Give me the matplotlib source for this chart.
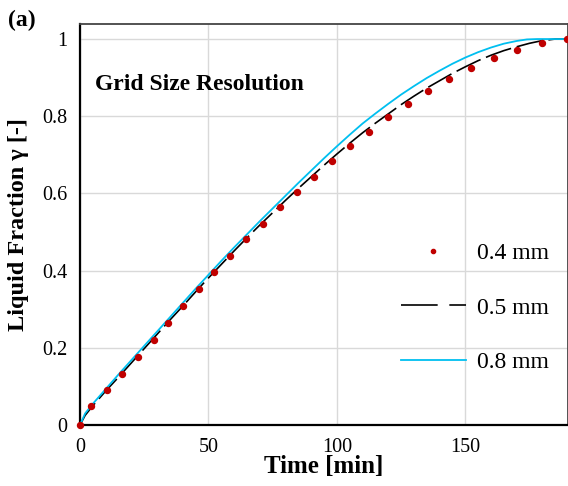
import matplotlib.pyplot as plt

plt.rcParams['font.family'] = ['Liberation Serif', 'DejaVu Serif']

# 0.4 mm grid (dots)
t_04 = [0, 4.1, 10.4, 16.3, 22.6, 28.8, 34.4, 40.1, 46.2, 52.1, 58.4, 64.6, 71.2, 77.8,
        84.4, 91.3, 98.3, 105.3, 112.5, 120, 127.6, 135.5, 143.7, 152.1, 161, 170.3, 179.8, 189.5]
y_04 = [0, 0.049, 0.091, 0.132, 0.177, 0.22, 0.265, 0.309, 0.352, 0.396, 0.439, 0.481, 0.522, 0.564,
        0.603, 0.643, 0.683, 0.722, 0.759, 0.797, 0.831, 0.865, 0.896, 0.925, 0.951, 0.972, 0.99, 1.0]

# 0.5 mm grid (dashed)
t_05 = [0, 2, 5, 10, 15, 20, 25, 30, 35, 40, 45, 50, 55, 60, 65, 70, 75, 80, 85, 90, 95, 100,
        105, 110, 115, 120, 125, 130, 135, 140, 145, 150, 155, 160, 165, 170, 175, 180, 185, 190]
y_05 = [0, 0.025, 0.05, 0.088, 0.124, 0.161, 0.198, 0.235, 0.272, 0.308, 0.345, 0.381, 0.416,
        0.451, 0.485, 0.518, 0.55, 0.582, 0.613, 0.643, 0.673, 0.702, 0.73, 0.757, 0.782, 0.806,
        0.83, 0.852, 0.873, 0.892, 0.911, 0.928, 0.944, 0.958, 0.97, 0.98, 0.989, 0.996, 1.0, 1.0]

# 0.8 mm grid (cyan)
t_08 = [0, 2, 5, 10, 15, 20, 25, 30, 35, 40, 45, 50, 55, 60, 65, 70, 75, 80, 85, 90, 95, 100,
        105, 110, 115, 120, 125, 130, 135, 140, 145, 150, 155, 160, 165, 170, 174, 178, 190]
y_08 = [0, 0.03, 0.055, 0.093, 0.131, 0.168, 0.205, 0.242, 0.279, 0.316, 0.353, 0.389, 0.425,
        0.46, 0.494, 0.528, 0.561, 0.594, 0.627, 0.659, 0.691, 0.722, 0.752, 0.781, 0.807, 0.832,
        0.856, 0.878, 0.899, 0.918, 0.936, 0.952, 0.966, 0.978, 0.988, 0.995, 0.999, 1.0, 1.0]

fig = plt.figure(figsize=(5.68, 4.86), dpi=100)
ax = fig.add_axes([80/568, 1-425/486, 488/568, 401/486])

ax.plot(t_04, y_04, 'o', color='#c00000', ms=4.3, lw=0, label='0.4 mm', zorder=4, clip_on=False)
ax.plot(t_05, y_05, color='black', lw=1.2, dashes=(16, 3.5), label='0.5 mm', zorder=3)
ax.plot(t_08, y_08, color='#00bff0', lw=1.3, label='0.8 mm', zorder=3)

ax.set_xlim(0, 190)
ax.set_ylim(0, 1.039)
ax.set_xticks([0, 50, 100, 150])
ax.set_yticks([0, 0.2, 0.4, 0.6, 0.8, 1.0])
ax.set_yticklabels(['0', '0.2', '0.4', '0.6', '0.8', '1'])
ax.tick_params(length=0, labelsize=14.5, pad=9)
ax.grid(color='#d9d9d9', lw=1)
ax.set_axisbelow(True)

for s in ['left', 'bottom']:
    ax.spines[s].set_linewidth(1.6)
    ax.spines[s].set_color('black')
for s in ['top', 'right']:
    ax.spines[s].set_linewidth(1.3)
    ax.spines[s].set_color('#444444')

ax.set_xlabel('Time [min]', fontsize=18, fontweight='bold')
ax.set_ylabel('Liquid Fraction γ [-]', fontsize=17.5, fontweight='bold')
ax.xaxis.set_label_coords(0.5, -0.075)
ax.yaxis.set_label_coords(-0.105, 0.5)

ax.text(0.031, 0.848, 'Grid Size Resolution', transform=ax.transAxes,
        fontsize=17, fontweight='bold', va='center', ha='left')
fig.text(8/568, 1-20/486, '(a)', fontsize=17, fontweight='bold', va='center', ha='left')

leg = ax.legend(loc='center left', bbox_to_anchor=(0.633, 0.292), frameon=False,
                fontsize=17, borderpad=0, labelspacing=1.4, handlelength=2.75,
                handletextpad=0.5, markerscale=0.7)
leg.get_lines()[1].set_dashes((22, 7))

fig.savefig('out.png', dpi=100)
